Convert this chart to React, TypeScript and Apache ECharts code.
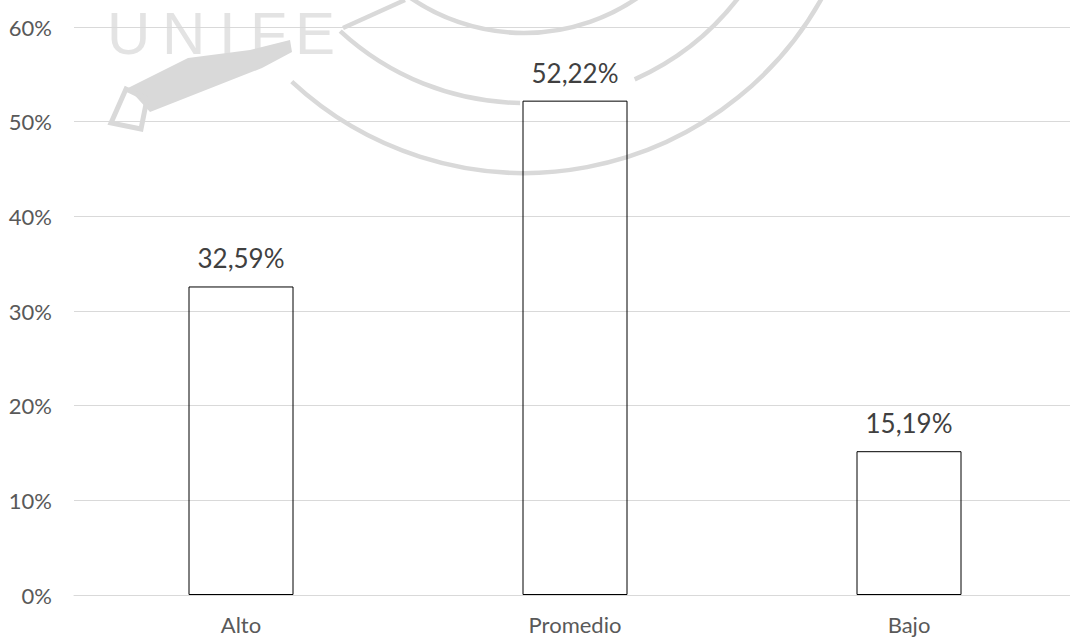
import React, { useEffect, useRef } from "react";
import * as echarts from "echarts";

const categories = ["Alto", "Promedio", "Bajo"];
const values = [32.59, 52.22, 15.19];
const yTicks = [0, 10, 20, 30, 40, 50, 60];

const WM = "#d9d9d9";

export default function App() {
  const ref = useRef<HTMLDivElement>(null);
  useEffect(() => {
    if (!ref.current) return;
    const chart = echarts.init(ref.current, undefined, { renderer: "svg" });
    const cx = 524;
    const cy = -168;
    const arcStyle = { stroke: WM, lineWidth: 4.5, fill: "none" };
    const letters = [
      { t: "U", x: 107 },
      { t: "N", x: 162 },
      { t: "I", x: 219 },
      { t: "F", x: 250 },
      { t: "E", x: 295 },
    ];
    chart.setOption({
      animation: false,
      backgroundColor: "#ffffff",
      graphic: [
        ...letters.map((l) => ({
          type: "text",
          x: l.x,
          y: 33,
          z: -1,
          style: {
            text: l.t,
            fill: "#e3e3e3",
            font: "normal 60px 'Liberation Sans', sans-serif",
            verticalAlign: "middle",
          },
        })),
        { type: "arc", z: -1, shape: { cx, cy, r: 201, startAngle: 0.92, endAngle: 2.22 }, style: arcStyle },
        { type: "arc", z: -1, shape: { cx, cy, r: 271, startAngle: 0.62, endAngle: 1.15 }, style: arcStyle },
        { type: "arc", z: -1, shape: { cx, cy, r: 271, startAngle: 1.585, endAngle: 2.316 }, style: arcStyle },
        { type: "arc", z: -1, shape: { cx, cy, r: 341, startAngle: 0.45, endAngle: 2.32 }, style: arcStyle },
        { type: "line", z: -1, shape: { x1: 343, y1: 28, x2: 405, y2: 0 }, style: { stroke: WM, lineWidth: 4.5 } },
        {
          type: "polygon",
          z: -1,
          shape: { points: [[128, 88], [188, 58], [250, 50], [290, 40], [292, 52], [262, 68], [150, 112]] },
          style: { fill: WM },
        },
        {
          type: "polygon",
          z: -1,
          shape: { points: [[111, 123], [126, 89], [147, 99], [141, 129]] },
          style: { fill: "none", stroke: WM, lineWidth: 5 },
        },
      ],
      grid: { left: 74, top: 27, width: 1002, height: 568, containLabel: false },
      xAxis: {
        type: "category",
        data: categories,
        axisLine: { show: true, lineStyle: { color: "#d9d9d9", width: 1 } },
        axisTick: { show: false },
        axisLabel: {
          color: "#595959",
          fontSize: 22,
          fontFamily: "Lato, sans-serif",
          margin: 18,
        },
      },
      yAxis: {
        type: "value",
        min: 0,
        max: 60,
        interval: 10,
        axisLine: { show: false },
        axisTick: { show: false },
        splitLine: { lineStyle: { color: "#d9d9d9", width: 1 } },
        axisLabel: {
          color: "#595959",
          fontSize: 22,
          fontFamily: "Lato, sans-serif",
          margin: 22,
          formatter: (v: number) => (yTicks.includes(v) ? `${v}%` : ""),
        },
      },
      series: [
        {
          type: "bar",
          data: values,
          barWidth: 105,
          itemStyle: { color: "rgba(255,255,255,0)", borderColor: "#000000", borderWidth: 1 },
          label: {
            show: true,
            position: "top",
            distance: 15,
            color: "#404040",
            fontSize: 26,
            fontFamily: "Lato, sans-serif",
            formatter: (p: any) => `${p.value.toFixed(2).replace(".", ",")}%`,
          },
        },
      ],
    });
    return () => chart.dispose();
  }, []);
  return (
    <div
      ref={ref}
      style={{ position: "fixed", left: 0, top: 0, width: 1080, height: 637 }}
    />
  );
}
